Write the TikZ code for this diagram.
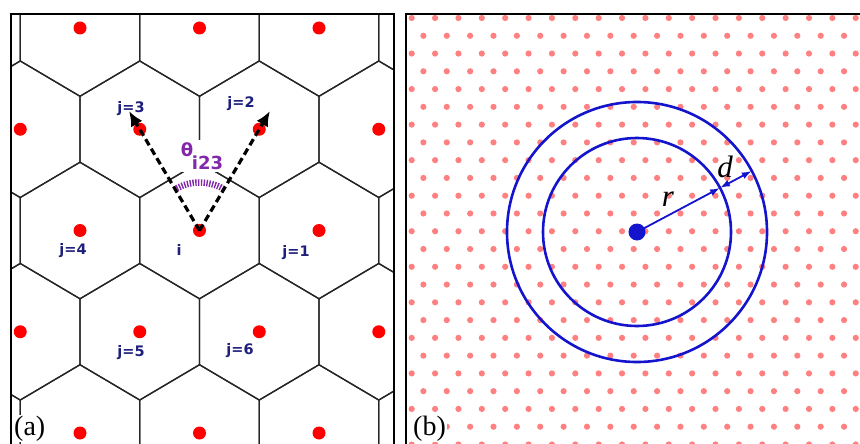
\documentclass[tikz,border=0pt]{standalone}
\usepackage{fontspec}
\setmainfont{Liberation Serif}
\setsansfont{Liberation Sans}
\newfontfamily\dejavu{DejaVu Sans}
\usetikzlibrary{arrows.meta,calc}
\definecolor{sotetkek}{RGB}{30,30,125}
\definecolor{lila}{RGB}{130,40,170}
\definecolor{rozsa}{RGB}{255,128,128}
\definecolor{kek}{RGB}{20,20,205}
\tikzset{
  rpont/.style={circle,fill=red,inner sep=0pt,minimum size=13pt},
  kpont/.style={circle,fill=kek,inner sep=0pt,minimum size=17pt},
  hatszog/.style={line width=1.3pt,black!85},
  keret/.style={line width=1.8pt},
  jcimke/.style={font=\dejavu\bfseries\fontsize{14.5}{15}\selectfont,text=sotetkek,inner sep=1pt},
  szcimke/.style={font=\dejavu\bfseries\fontsize{18}{18}\selectfont,text=lila,fill=white,align=left,inner sep=2pt},
  vnyil/.style={-{Latex[length=15pt,width=13pt]},line width=3.2pt,dash pattern=on 7pt off 4pt},
  ivvonal/.style={line width=6.5pt,lila,dash pattern=on 1.4pt off 1.4pt},
  kor/.style={line width=2.6pt,kek},
  knyil/.style={-{Latex[length=10pt,width=7pt]},line width=1.8pt,kek},
  kknyil/.style={{Latex[length=10pt,width=7pt]}-{Latex[length=10pt,width=7pt]},line width=1.8pt,kek},
  betu/.style={font=\fontsize{31}{31}\selectfont\itshape,inner sep=1pt},
  panelcimke/.style={font=\fontsize{28}{28}\selectfont,fill=white,inner sep=1pt},
}

\begin{document}
\begin{tikzpicture}[x=1pt,y=-1pt]
  \useasboundingbox (0,0) rectangle (860,444);

  % (a) hatszoges racs
  \begin{scope}
    \clip (12,15) rectangle (393,444);
    \foreach \py/\dx in {-73.25/20.25,28/80,129.25/20.25,230.5/80,331.75/20.25,433/80,534.25/20.25}
      \foreach \n in {-1,...,3}
        \draw[hatszog] (\dx+119.5*\n,\py-68.3) -- ++(59.75,35.3) -- ++(0,66) -- ++(-59.75,35.3)
          -- ++(-59.75,-35.3) -- ++(0,-66) -- cycle;
    \foreach \sor/\py/\dx in {0/28/80,1/129.25/20.25,2/230.5/80,3/331.75/20.25,4/433/80}
      \foreach \n in {0,...,3}
        \node[rpont] (p-\sor-\n) at (\dx+119.5*\n,\py) {};
  \end{scope}
  \draw[keret] (11,460) -- (11,14) -- (394,14) -- (394,460);

  \node[szcimke] (theta) at (202,156) {θ\\[-5pt]\hspace*{11pt}i23};
  \draw[ivvonal] ([shift={(-60:48)}]p-2-1.center) arc[start angle=-60,end angle=-121,radius=48];
  \coordinate (v3) at ($(p-2-1.center)!1.18!(p-1-1.center)$);
  \coordinate (v2) at ($(p-2-1.center)!1.18!(p-1-2.center)$);
  \draw[vnyil] (p-2-1.center) -- (v3);
  \draw[vnyil] (p-2-1.center) -- (v2);

  \node[jcimke] (j3) at (131,109) {j=3};
  \node[jcimke] (j2) at (241,104) {j=2};
  \node[jcimke] (j4) at (73,251) {j=4};
  \node[jcimke] (ii) at (179,250) {i};
  \node[jcimke] (j1) at (296,253) {j=1};
  \node[jcimke] (j5) at (131,353) {j=5};
  \node[jcimke] (j6) at (240,351) {j=6};
  \node[panelcimke,anchor=base west] (a) at (13,435) {(a)};

  % (b) pontracs es korok
  \begin{scope}
    \clip (407,15) rectangle (860,444);
    \foreach \k in {0,...,24}
      \foreach \n in {0,...,19}{
        \pgfmathsetmacro\px{411.7+23.37*\n+11.685*mod(\k,2)}
        \fill[rozsa] (\px,18+17.77*\k) circle[radius=3.1];
      }
  \end{scope}
  \draw[keret] (860,14) -- (406,14) -- (406,460);

  \node[kpont] (kozep) at (637,232) {};
  \draw[kor] (kozep.center) circle[radius=94];
  \draw[kor] (kozep.center) circle[radius=130];
  \coordinate (belso) at ($(kozep.center)+(-28:94)$);
  \coordinate (kulso) at ($(kozep.center)+(-28:130)$);
  \draw[knyil] (kozep.center) -- (belso);
  \draw[kknyil] (belso) -- (kulso);
  \node[betu] (r) at (668,199) {r};
  \node[betu] (d) at (725,167) {d};
  \node[panelcimke,anchor=base west] (b) at (412,435) {(b)};
\end{tikzpicture}
\end{document}
